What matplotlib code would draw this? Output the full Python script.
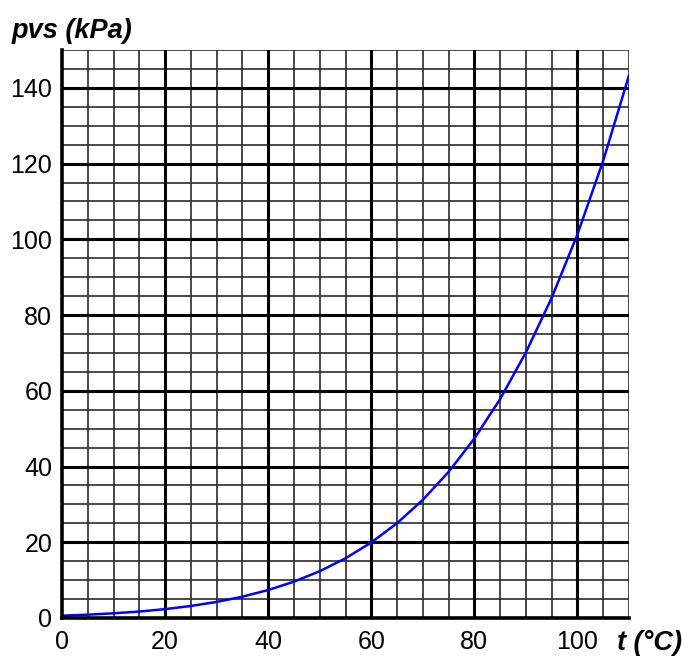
import matplotlib.pyplot as plt
import numpy as np

plt.rcParams['font.family'] = ['Liberation Sans', 'DejaVu Sans']

# saturation vapour pressure of water
temps = [0, 5, 10, 15, 20, 25, 30, 35, 40, 45, 50, 55,
         60, 65, 70, 75, 80, 85, 90, 95, 100, 105, 110]
pvs = [0.61, 0.87, 1.23, 1.70, 2.34, 3.17, 4.24, 5.62, 7.38, 9.59, 12.35, 15.76,
       19.94, 25.03, 31.19, 38.58, 47.39, 57.83, 70.14, 84.55, 101.33, 120.8, 143.3]

xTicks = [0, 20, 40, 60, 80, 100]
yTicks = [0, 20, 40, 60, 80, 100, 120, 140]

fig = plt.figure(figsize=(6.82, 6.57), dpi=100)
ax = fig.add_axes([0.0909, 0.0594, 0.8314, 0.8645])

ax.set_xlim(0, 110)
ax.set_ylim(0, 150)

# grid: thin lines every 5, heavy lines every 20
for v in np.arange(5, 111, 5):
    if v % 20 != 0:
        ax.axvline(v, color='#2a2a2a', lw=1.2, zorder=1)
for v in np.arange(5, 151, 5):
    if v % 20 != 0:
        ax.axhline(v, color='#2a2a2a', lw=1.2, zorder=1)
for v in xTicks[1:]:
    ax.axvline(v, color='black', lw=2.2, zorder=1)
for v in yTicks[1:]:
    ax.axhline(v, color='black', lw=2.2, zorder=1)

ax.plot(temps, pvs, color='#0000ff', lw=1.8, zorder=3)

ax.set_xticks(xTicks, labels=[str(t) for t in xTicks])
ax.set_yticks(yTicks, labels=[str(t) for t in yTicks])
ax.tick_params(length=0, labelsize=18)
ax.tick_params(axis='x', pad=9)
ax.tick_params(axis='y', pad=7)

for side in ['top', 'right']:
    ax.spines[side].set_visible(False)
ax.spines['left'].set_linewidth(2.6)
ax.spines['bottom'].set_linewidth(2.6)
ax.spines['left'].set_zorder(4)
ax.spines['bottom'].set_zorder(4)

fig.text(0.017, 0.953, 'pvs (kPa)', fontsize=19.5, fontweight='bold',
         fontstyle='italic', ha='left', va='center')
fig.text(0.904, 0.021, 't (°C)', fontsize=19.5, fontweight='bold',
         fontstyle='italic', ha='left', va='center')

fig.savefig('out.png', dpi=100)
